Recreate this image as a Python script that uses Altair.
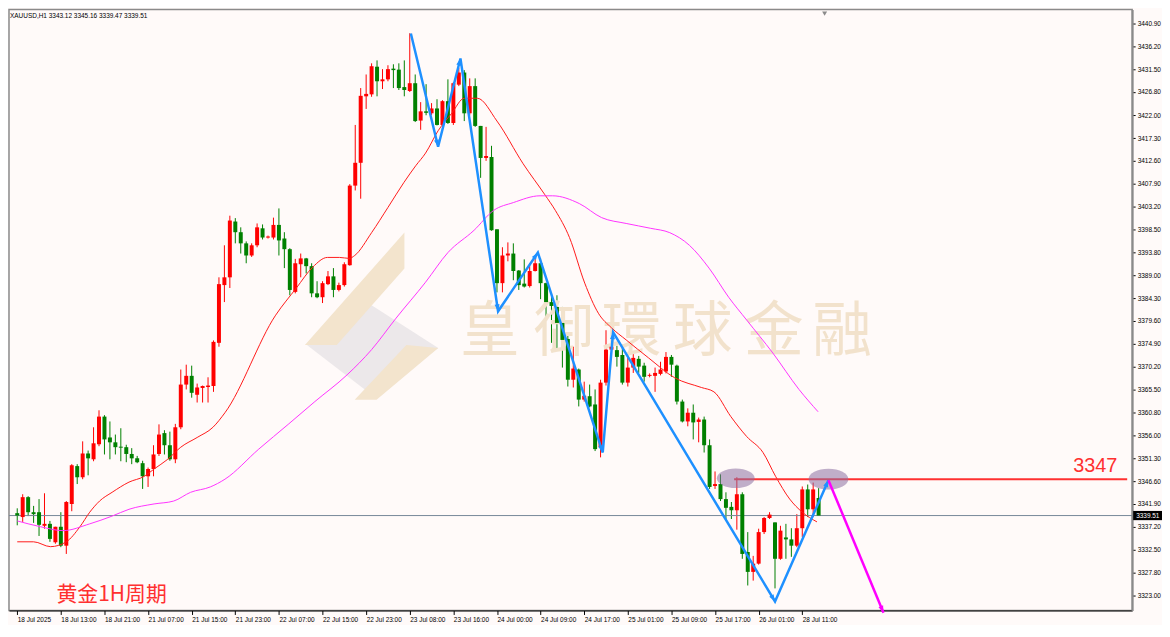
import math
import altair as alt
import pandas as pd

# ---------------- data ----------------
opens = [3340.0, 3339.2, 3343.3, 3340.2, 3340.2, 3337.4, 3337.8, 3334.0, 3337.2, 3333.3,
         3341.9, 3349.7, 3347.4, 3352.3, 3351.1, 3354.2, 3359.9, 3355.6, 3354.6, 3353.7,
         3353.6, 3352.2, 3351.3, 3350.3, 3347.6, 3349.1, 3352.2, 3356.5, 3354.0, 3351.1,
         3357.7, 3366.5, 3368.3, 3364.4, 3365.8, 3366.0, 3366.2, 3375.1, 3387.0, 3388.6,
         3400.1, 3397.9, 3395.6, 3393.1, 3395.2, 3398.7, 3396.8, 3396.8, 3399.4, 3396.6,
         3394.4, 3385.6, 3391.3, 3392.5, 3390.9, 3385.3, 3384.5, 3387.2, 3388.8, 3386.0,
         3387.0, 3391.1, 3407.5, 3412.2, 3425.9, 3426.3, 3432.0, 3429.0, 3429.4, 3431.6,
         3431.4, 3427.8, 3427.0, 3428.6, 3420.9, 3422.8, 3422.4, 3423.4, 3420.0, 3424.9,
         3420.4, 3428.3, 3430.8, 3422.4, 3428.0, 3419.8, 3413.2, 3413.4, 3398.5, 3387.4,
         3393.1, 3393.5, 3390.0, 3387.3, 3386.8, 3389.9, 3391.5, 3387.4, 3383.5, 3382.5,
         3379.2, 3375.9, 3367.5, 3369.6, 3363.4, 3364.1, 3362.4, 3353.6, 3366.9, 3373.7,
         3373.6, 3372.6, 3366.9, 3370.0, 3371.8, 3370.4, 3368.3, 3368.3, 3368.7, 3369.2,
         3372.2, 3370.4, 3363.0, 3358.9, 3360.7, 3358.8, 3359.3, 3354.0, 3345.6, 3346.0,
         3342.9, 3341.3, 3340.6, 3343.9, 3332.0, 3327.9, 3329.6, 3336.1, 3339.0, 3338.1,
         3330.6, 3335.0, 3334.6, 3333.3, 3336.9, 3344.9, 3340.8, 3343.12]
highs = [3341.0, 3343.9, 3343.5, 3341.5, 3342.9, 3344.1, 3338.4, 3337.2, 3340.2, 3342.5,
         3350.1, 3350.1, 3354.8, 3352.9, 3357.7, 3361.2, 3360.2, 3358.9, 3356.2, 3357.5,
         3354.1, 3353.4, 3351.8, 3350.8, 3349.4, 3354.0, 3358.3, 3357.1, 3356.8, 3358.4,
         3369.6, 3370.6, 3370.4, 3366.7, 3366.3, 3368.0, 3375.6, 3388.6, 3395.2, 3401.3,
         3400.8, 3398.9, 3396.0, 3395.6, 3399.7, 3399.5, 3397.2, 3400.9, 3402.8, 3397.9,
         3394.6, 3392.4, 3393.5, 3392.6, 3391.5, 3387.8, 3387.8, 3389.9, 3390.5, 3387.5,
         3391.7, 3407.8, 3420.0, 3427.6, 3430.4, 3432.7, 3433.3, 3431.5, 3432.3, 3432.5,
         3432.7, 3433.3, 3438.9, 3430.4, 3424.7, 3428.4, 3424.5, 3425.3, 3425.1, 3429.4,
         3428.8, 3431.8, 3431.3, 3429.6, 3429.6, 3419.8, 3419.6, 3415.7, 3398.5, 3394.8,
         3395.8, 3395.6, 3390.1, 3392.3, 3391.5, 3392.7, 3392.5, 3387.5, 3384.9, 3384.9,
         3382.5, 3377.3, 3374.3, 3369.8, 3367.1, 3366.5, 3365.5, 3367.5, 3377.7, 3375.5,
         3374.5, 3374.7, 3372.0, 3373.0, 3372.4, 3371.0, 3368.8, 3370.0, 3371.2, 3373.2,
         3372.6, 3370.6, 3363.4, 3361.6, 3362.4, 3359.7, 3359.9, 3355.2, 3348.6, 3348.0,
         3344.3, 3342.3, 3347.4, 3344.3, 3336.1, 3331.2, 3336.8, 3339.2, 3340.2, 3338.1,
         3337.4, 3337.8, 3336.9, 3339.8, 3345.5, 3345.9, 3346.3, 3345.16]
lows = [3337.5, 3338.2, 3339.4, 3338.0, 3335.3, 3336.8, 3334.1, 3333.7, 3333.0, 3331.6,
        3340.4, 3346.0, 3347.0, 3347.8, 3350.7, 3353.8, 3352.1, 3351.1, 3352.1, 3350.7,
        3350.5, 3350.1, 3350.3, 3345.0, 3345.4, 3347.6, 3351.8, 3352.1, 3350.8, 3350.3,
        3357.3, 3365.5, 3363.8, 3362.8, 3362.8, 3362.8, 3365.0, 3374.3, 3383.5, 3386.4,
        3395.6, 3393.5, 3391.5, 3392.8, 3394.8, 3396.4, 3396.6, 3396.4, 3393.1, 3390.5,
        3384.9, 3385.3, 3388.6, 3389.4, 3384.5, 3384.3, 3383.3, 3387.0, 3384.5, 3385.7,
        3386.7, 3391.0, 3406.5, 3404.8, 3423.3, 3425.8, 3425.9, 3427.4, 3429.0, 3427.6,
        3427.2, 3425.9, 3426.8, 3420.6, 3419.0, 3422.0, 3422.0, 3419.9, 3419.8, 3420.2,
        3420.0, 3428.0, 3420.8, 3422.0, 3419.6, 3409.1, 3412.6, 3398.2, 3385.5, 3385.5,
        3391.9, 3388.0, 3386.0, 3386.5, 3386.5, 3389.8, 3384.1, 3380.4, 3375.1, 3373.7,
        3370.0, 3366.1, 3365.9, 3362.0, 3363.0, 3361.8, 3352.8, 3351.5, 3366.3, 3372.4,
        3370.2, 3366.5, 3366.1, 3368.9, 3368.9, 3367.1, 3368.0, 3365.0, 3368.4, 3368.8,
        3368.1, 3362.4, 3358.7, 3357.9, 3355.2, 3354.6, 3352.5, 3345.0, 3345.0, 3342.5,
        3338.4, 3338.8, 3336.6, 3330.6, 3325.1, 3326.1, 3329.4, 3335.7, 3338.8, 3324.5,
        3330.4, 3330.6, 3331.0, 3333.0, 3335.1, 3339.2, 3339.2, 3339.47]
closes = [3339.5, 3343.3, 3340.2, 3339.8, 3337.6, 3337.8, 3334.7, 3337.2, 3333.3, 3342.3,
          3349.9, 3347.4, 3352.3, 3351.3, 3354.4, 3359.9, 3355.2, 3354.6, 3353.6, 3353.5,
          3352.2, 3351.3, 3350.5, 3347.6, 3349.1, 3352.1, 3356.2, 3354.0, 3351.1, 3357.7,
          3366.5, 3368.3, 3364.8, 3365.9, 3366.2, 3366.3, 3375.3, 3387.2, 3388.6, 3400.3,
          3397.9, 3395.6, 3393.1, 3395.2, 3398.9, 3396.8, 3397.0, 3399.4, 3396.2, 3394.4,
          3386.0, 3391.5, 3392.5, 3390.9, 3385.3, 3384.5, 3387.4, 3388.8, 3386.0, 3387.0,
          3391.3, 3407.5, 3412.2, 3426.0, 3426.4, 3432.1, 3429.0, 3429.4, 3431.5, 3431.3,
          3427.6, 3427.2, 3428.6, 3420.8, 3422.8, 3422.5, 3423.4, 3420.0, 3424.9, 3420.4,
          3428.6, 3430.8, 3422.4, 3428.0, 3419.8, 3413.2, 3413.6, 3398.3, 3387.4, 3393.1,
          3393.5, 3389.9, 3387.0, 3386.7, 3389.9, 3391.5, 3387.4, 3383.5, 3382.7, 3379.2,
          3375.7, 3367.5, 3369.8, 3363.4, 3364.2, 3362.0, 3353.2, 3366.9, 3373.7, 3374.3,
          3372.2, 3366.9, 3370.0, 3372.0, 3370.2, 3368.1, 3368.5, 3368.9, 3369.6, 3372.2,
          3370.6, 3363.0, 3358.9, 3360.7, 3358.7, 3359.3, 3354.0, 3345.4, 3346.0, 3342.9,
          3341.1, 3340.6, 3343.9, 3331.6, 3327.9, 3329.6, 3336.1, 3339.0, 3339.7, 3330.6,
          3336.4, 3334.6, 3333.3, 3336.9, 3344.9, 3340.8, 3344.9, 3339.51]

# moving averages (bar index, price)
ma_fast_idx = [0, 3.0, 6.1, 9.0, 11.5, 13.3, 15.1, 17.4, 20.5, 23.3, 25.1, 27.6, 30.0, 33.0,
               35.9, 38.1, 47.4, 51.2, 54.2, 56.9, 59.1, 60.9, 61.9, 65.0, 68.0, 70.9, 73.1,
               74.9, 77.2, 79.7, 82.0, 84.4, 88.0, 92.8, 96.8, 98.7, 101.3, 104.1, 106.6,
               109.0, 111.7, 115.8, 120.6, 125.5, 127.8, 130.9, 133.8, 136.8, 139.1, 141.7,
               144.0, 146.7]
ma_fast_val = [3334.1, 3334.1, 3333.1, 3334.1, 3337.2, 3340.2, 3342.5, 3344.3, 3346.4, 3347.6,
               3349.1, 3351.1, 3353.6, 3355.6, 3357.7, 3360.7, 3380.8, 3386.4, 3390.7, 3392.7,
               3392.7, 3392.5, 3393.1, 3397.8, 3403.0, 3408.1, 3411.6, 3414.2, 3418.8, 3422.4,
               3425.5, 3425.5, 3420.8, 3412.0, 3405.6, 3402.4, 3396.8, 3387.4, 3381.2, 3378.2,
               3375.7, 3372.0, 3367.9, 3365.9, 3365.0, 3359.9, 3355.8, 3352.5, 3347.6, 3342.9,
               3340.2, 3338.2]
ma_slow_idx = [0, 4.3, 8.4, 13.3, 17.4, 20.5, 25.1, 28.7, 31.8, 35.4, 38.1, 44.3, 49.7, 54.6,
               60.5, 65.0, 69.5, 74.9, 79.0, 83.8, 87.4, 91.0, 95.9, 98.2, 103.1, 107.2, 111.7,
               116.2, 119.7, 123.3, 126.9, 130.5, 133.8, 138.6, 143.4, 146.9]
ma_slow_val = [3338.4, 3337.2, 3336.4, 3337.8, 3339.4, 3340.8, 3341.9, 3342.5, 3344.3, 3345.4,
               3347.0, 3353.2, 3358.3, 3363.0, 3368.5, 3373.7, 3380.2, 3387.6, 3393.7, 3398.3,
               3402.4, 3404.0, 3405.4, 3405.4, 3403.8, 3400.9, 3399.7, 3398.7, 3397.8, 3395.2,
               3390.5, 3384.5, 3379.8, 3373.0, 3365.5, 3360.9]

# blue zig-zag drawing and magenta projection arrow
zig_idx = [72.2, 77.2, 81.3, 88.2, 95.5, 107.4, 109.3, 139.0, 148.8]
zig_val = [3438.85, 3415.5, 3433.7, 3381.6, 3393.7, 3352.5, 3377.3, 3321.8, 3346.8]
proj_idx = [148.8, 158.9]
proj_val = [3346.8, 3319.5]

level_value = 3347
level_start = 131.5
last_price = 3339.51
ellipse_idx = [131.8, 148.8]
ellipse_val = [3347.2, 3347.0]

x_tick_idx = [0, 8, 16, 24, 32, 40, 48, 56, 64, 72, 80, 88, 96, 104, 112, 120, 128, 136, 144]
x_tick_labels = ["18 Jul 2025", "18 Jul 13:00", "18 Jul 21:00", "21 Jul 07:00", "21 Jul 15:00",
                 "21 Jul 23:00", "22 Jul 07:00", "22 Jul 15:00", "22 Jul 23:00", "23 Jul 08:00",
                 "23 Jul 16:00", "24 Jul 00:00", "24 Jul 09:00", "24 Jul 17:00", "25 Jul 01:00",
                 "25 Jul 09:00", "25 Jul 17:00", "26 Jul 01:00", "28 Jul 11:00"]
y_ticks = [3440.90, 3436.20, 3431.50, 3426.80, 3422.00, 3417.30, 3412.60, 3407.90, 3403.20,
           3398.50, 3393.80, 3389.00, 3384.30, 3379.60, 3374.90, 3370.20, 3365.50, 3360.80,
           3356.00, 3351.30, 3346.60, 3341.90, 3337.20, 3332.50, 3327.80, 3323.00]

header_text = "XAUUSD,H1  3343.12 3345.16 3339.47 3339.51"
label_text = "黄金1H周期"
watermark_chars = ["皇", "御", "環", "球", "金", "融"]
watermark_idx = [86.7, 100.2, 112.7, 125.7, 138.8, 151.3]
watermark_val = 3377.1

# ---------------- layout ----------------
PLOT_W, PLOT_H = 1129, 604
X_DOM = [-0.6, 203.6]
Y_DOM = [3319.95, 3443.77]
PX_X = PLOT_W / (X_DOM[1] - X_DOM[0])
PX_Y = PLOT_H / (Y_DOM[1] - Y_DOM[0])
FONT = "Liberation Sans"

xs = alt.Scale(domain=X_DOM, nice=False, zero=False)
ys = alt.Scale(domain=Y_DOM, nice=False, zero=False)

candles = pd.DataFrame({"i": list(range(len(opens))), "open": opens, "high": highs,
                        "low": lows, "close": closes})
color_cond = alt.condition("datum.close >= datum.open", alt.value("#ff0000"), alt.value("#008000"))

xlab_expr = "[" + ",".join("'" + s + "'" for s in x_tick_labels) + "][round(datum.value/8)]"

x_axis = alt.Axis(values=x_tick_idx, labelExpr=xlab_expr, labelAlign="left", labelPadding=2,
                  tickSize=4, tickColor="#000000", domainColor="#000000", domainWidth=1,
                  labelFont=FONT, labelFontSize=6.5, labelColor="#000000", labelFlush=False,
                  labelOverlap=False, grid=False, title=None)
y_axis = alt.Axis(orient="right", values=y_ticks, format=".2f", tickSize=3, tickColor="#000000",
                  domainColor="#8a8a8a", domainWidth=2, labelPadding=2, labelFont=FONT,
                  labelFontSize=6.5, labelColor="#000000", labelFlush=False, labelOverlap=False,
                  grid=False, title=None)


def X(field):
    return alt.X(field, type="quantitative", scale=xs, axis=x_axis)


def Y(field):
    return alt.Y(field, type="quantitative", scale=ys, axis=y_axis)


# watermark logo (pixel-unit path, scale 1 with size 4)
logo_path = "M-65,30 L0,-10 L67,33 L0,80 Z"
logo_path2 = "M-67,30 L33,-83 L33,-47 L-35,30 Z M35,30 L67,33 L5,85 L-17,85 Z"
logo_df = pd.DataFrame({"i": [65.0], "p": [3380.8]})
logo_gray = alt.Chart(logo_df).mark_point(shape=logo_path, filled=True, size=4, opacity=1,
                                          color="#ece8ea").encode(x=X("i"), y=Y("p"))
logo_tan = alt.Chart(logo_df).mark_point(shape=logo_path2, filled=True, size=4, opacity=1,
                                         color="#f3e4cd").encode(x=X("i"), y=Y("p"))

wm_df = pd.DataFrame({"ch": watermark_chars, "i": watermark_idx,
                      "p": [watermark_val] * len(watermark_chars)})
watermark = alt.Chart(wm_df).mark_text(font="Noto Sans CJK TC", fontSize=60, color="#f2e2cc",
                                       baseline="middle", align="center").encode(
    x=X("i"), y=Y("p"), text="ch:N")

# current price line
price_line = alt.Chart(pd.DataFrame({"p": [last_price]})).mark_rule(
    color="#778899", strokeWidth=1).encode(y=Y("p"))

wicks = alt.Chart(candles).mark_rule(strokeWidth=1).encode(
    x=X("i"), y=Y("low"), y2="high:Q", color=color_cond)
bodies = alt.Chart(candles).mark_bar(size=4).encode(
    x=X("i"), y=Y("open"), y2="close:Q", color=color_cond)

ma_fast = alt.Chart(pd.DataFrame({"i": ma_fast_idx, "p": ma_fast_val})).mark_line(
    color="#ff1a1a", strokeWidth=1, interpolate="monotone").encode(x=X("i"), y=Y("p"))
ma_slow = alt.Chart(pd.DataFrame({"i": ma_slow_idx, "p": ma_slow_val})).mark_line(
    color="#ff33ff", strokeWidth=1, interpolate="monotone").encode(x=X("i"), y=Y("p"))

level_line = alt.Chart(pd.DataFrame({"a": [level_start], "b": [X_DOM[1]], "p": [level_value]})).mark_rule(
    color="#ff3030", strokeWidth=2).encode(x=X("a"), x2="b:Q", y=Y("p"))

ell_path = "M-1,0 A1,0.52 0 1,1 1,0 A1,0.52 0 1,1 -1,0 Z"
ellipses = alt.Chart(pd.DataFrame({"i": ellipse_idx, "p": ellipse_val, "s": [1444, 1600]})).mark_point(
    shape=ell_path, filled=True, color="#8c6fa3", opacity=0.55).encode(
    x=X("i"), y=Y("p"), size=alt.Size("s:Q", scale=None, legend=None))

zig = alt.Chart(pd.DataFrame({"i": zig_idx, "p": zig_val, "o": list(range(len(zig_idx)))})).mark_line(
    color="#1e90ff", strokeWidth=2.5).encode(x=X("i"), y=Y("p"), order="o:Q")
proj = alt.Chart(pd.DataFrame({"i": proj_idx, "p": proj_val})).mark_line(
    color="#ff00ff", strokeWidth=2.5).encode(x=X("i"), y=Y("p"))


def heads(idx, val):
    rows = []
    for k in range(1, len(idx)):
        dx = (idx[k] - idx[k - 1]) * PX_X
        dy = -(val[k] - val[k - 1]) * PX_Y
        ang = math.degrees(math.atan2(dx, -dy)) % 360
        rows.append({"i": idx[k], "p": val[k], "a": ang})
    return pd.DataFrame(rows)


head_path = "M0,0 L-0.5,1.4 L0.5,1.4 Z"
zig_heads = alt.Chart(heads(zig_idx, zig_val)).mark_point(
    shape=head_path, filled=True, size=100, opacity=1, color="#1e90ff").encode(
    x=X("i"), y=Y("p"), angle=alt.Angle("a:Q", scale=None))
proj_heads = alt.Chart(heads(proj_idx, proj_val)).mark_point(
    shape=head_path, filled=True, size=100, opacity=1, color="#ff00ff").encode(
    x=X("i"), y=Y("p"), angle=alt.Angle("a:Q", scale=None))

level_text = alt.Chart(pd.DataFrame({"i": [201.8], "p": [level_value], "t": [str(level_value)]})).mark_text(
    align="right", baseline="bottom", dy=-3, fontSize=20, font=FONT, color="#ff3030").encode(
    x=X("i"), y=Y("p"), text="t:N")

cn_label = alt.Chart(pd.DataFrame({"i": [7.2], "p": [3323.2], "t": [label_text]})).mark_text(
    align="left", baseline="middle", fontSize=21, font="Noto Sans CJK SC", color="#ff3030").encode(
    x=X("i"), y=Y("p"), text="t:N")

header = alt.Chart(pd.DataFrame({"t": [header_text]})).mark_text(
    align="left", baseline="middle", fontSize=6.5, font=FONT, color="#000000").encode(
    x=alt.value(1), y=alt.value(6), text="t:N")

tri = alt.Chart(pd.DataFrame({"i": [148.1]})).mark_point(
    shape="triangle-down", filled=True, size=25, opacity=1, color="#8a8a8a").encode(
    x=X("i"), y=alt.value(4))

price_box = alt.Chart(pd.DataFrame({"a": [last_price + 0.95], "b": [last_price - 0.95]})).mark_rect(
    color="#000000").encode(x=alt.value(PLOT_W + 1), x2=alt.value(PLOT_W + 30), y=Y("a"), y2="b:Q")
price_txt = alt.Chart(pd.DataFrame({"p": [last_price], "t": ["%.2f" % last_price]})).mark_text(
    align="left", baseline="middle", fontSize=6.5, font=FONT, color="#ffffff").encode(
    x=alt.value(PLOT_W + 4), y=Y("p"), text="t:N")

chart = alt.layer(
    wicks, logo_gray, logo_tan, watermark, price_line, bodies, ma_fast, ma_slow,
    level_line, ellipses, zig, zig_heads, proj, proj_heads,
    level_text, cn_label, header, tri, price_box, price_txt
).properties(
    width=PLOT_W, height=PLOT_H,
    padding={"left": 0, "right": 0, "top": 0, "bottom": 0},
    background="#fffaf9"
).configure_view(stroke="#8a8a8a", strokeWidth=1.5)

chart.save("out.html", embed_options={"renderer": "svg", "actions": False})
